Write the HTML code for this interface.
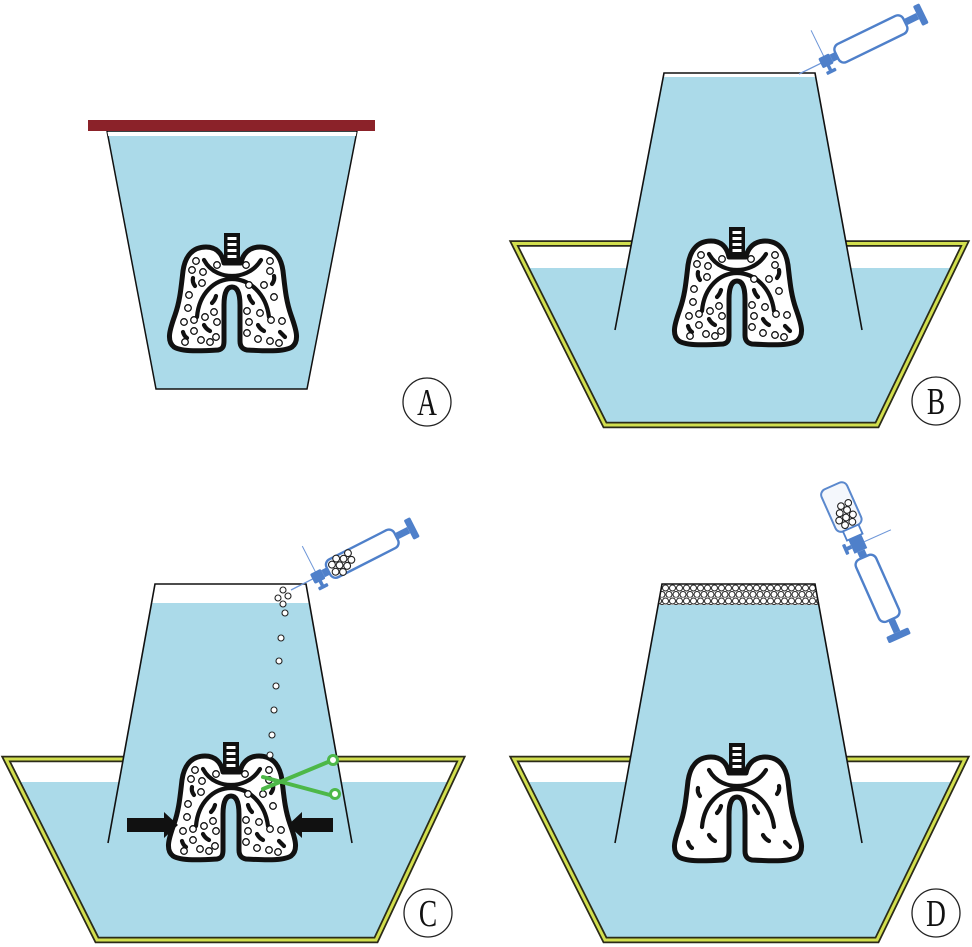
<!DOCTYPE html>
<html><head><meta charset="utf-8"><style>html,body{margin:0;padding:0;background:#fff}svg{display:block}</style></head>
<body>
<svg width="972" height="947" viewBox="0 0 972 947" xmlns="http://www.w3.org/2000/svg">
<defs>
  <g id="lung">
    <path d="M -8 30 C -10 20, -16 14, -26 14 C -40 14, -47 24, -49 38 C -51 55, -52 68, -57 82 C -62 96, -66 108, -58 114 C -50 119, -30 118, -14 117 C -9 116, -8 113, -8 108 L -8 72 C -8 60, -5 54, 0 54 C 5 54, 8 60, 8 72 L 8 108 C 8 113, 10 116, 15 117 C 32 118, 52 119, 60 114 C 68 108, 64 96, 59 82 C 54 68, 53 55, 51 38 C 49 24, 42 14, 28 14 C 18 14, 11 20, 9 30 Z" fill="#fff" stroke="#111" stroke-width="5" stroke-linejoin="round"/>
    <path d="M -28 27 C -21 40, -8 43, 0 43 C 8 43, 21 40, 29 27" fill="none" stroke="#111" stroke-width="4.2" stroke-linecap="round"/>
    <path d="M -35 84 C -33 60, -17 46, 0 46 C 17 46, 34 60, 37 84" fill="none" stroke="#111" stroke-width="4.2" stroke-linecap="round"/>
    <rect x="-8" y="0" width="16" height="31" fill="#111"/>
    <rect x="-4.5" y="4" width="9" height="3" fill="#fff"/>
    <rect x="-4.5" y="10" width="9" height="3" fill="#fff"/>
    <rect x="-4.5" y="16" width="9" height="3" fill="#fff"/>
    <rect x="-4.5" y="22" width="9" height="3" fill="#fff"/>
    <g fill="none" stroke="#111" stroke-width="4.2" stroke-linecap="round">
      <path d="M -39 45 Q -40 49 -37 53"/>
      <path d="M -16 63 Q -17 67 -20 70"/>
      <path d="M -28 92 Q -26 96 -22 98"/>
      <path d="M -49 99 Q -48 103 -45 105"/>
      <path d="M 42 43 Q 43 47 40 51"/>
      <path d="M 17 63 Q 18 67 21 70"/>
      <path d="M 26 92 Q 28 96 32 98"/>
      <path d="M 48 99 Q 51 102 53 104"/>
    </g>
  </g>
  <g id="dots" fill="#fff" stroke="#111" stroke-width="1.3">
    <circle cx="-36" cy="28" r="3.3"/><circle cx="-29" cy="39" r="3.3"/><circle cx="-40" cy="37" r="3.3"/>
    <circle cx="-30" cy="50" r="3.3"/><circle cx="-15" cy="32" r="3.3"/><circle cx="-43" cy="62" r="3.3"/>
    <circle cx="-44" cy="75" r="3.3"/><circle cx="-18" cy="79" r="3.3"/>
    <circle cx="-48" cy="89" r="3.3"/><circle cx="-38" cy="87" r="3.3"/><circle cx="-27" cy="84" r="3.3"/>
    <circle cx="-15" cy="89" r="3.3"/><circle cx="-38" cy="98" r="3.3"/><circle cx="-31" cy="107" r="3.3"/>
    <circle cx="-47" cy="109" r="3.3"/><circle cx="-16" cy="104" r="3.3"/><circle cx="-22" cy="109" r="3.3"/>
    <circle cx="14" cy="32" r="3.3"/><circle cx="38" cy="28" r="3.3"/><circle cx="38" cy="38" r="3.3"/>
    <circle cx="17" cy="52" r="3.3"/><circle cx="42" cy="64" r="3.3"/><circle cx="15" cy="78" r="3.3"/>
    <circle cx="28" cy="80" r="3.3"/><circle cx="17" cy="89" r="3.3"/><circle cx="39" cy="87" r="3.3"/>
    <circle cx="50" cy="88" r="3.3"/><circle cx="26" cy="106" r="3.3"/><circle cx="38" cy="108" r="3.3"/>
    <circle cx="47" cy="110" r="3.3"/><circle cx="32" cy="52" r="3.3"/><circle cx="15" cy="100" r="3.3"/>
  </g>
  <g id="syr">
    <line x1="0" y1="0" x2="26" y2="0" stroke="#6D96D8" stroke-width="1.3"/>
    <line x1="30" y1="-4" x2="30" y2="-34" stroke="#6D96D8" stroke-width="1"/>
    <rect x="24" y="-5.5" width="12" height="11" rx="1.5" fill="#4F80CA"/>
    <rect x="28.3" y="5" width="3.5" height="5.5" fill="#4F80CA"/>
    <rect x="25" y="10" width="10.5" height="3.5" rx="1" fill="#4F80CA"/>
    <rect x="36" y="-4" width="6" height="8" fill="#4F80CA"/>
    <rect x="42" y="-10" width="76" height="20" rx="6" fill="#fff" stroke="#4F80CA" stroke-width="2.4"/>
    <rect x="119" y="-3.5" width="13" height="7" fill="#4F80CA"/>
    <rect x="132" y="-11" width="7" height="22" rx="1.5" fill="#4F80CA"/>
  </g>
  <pattern id="bub" patternUnits="userSpaceOnUse" x="662" y="584.5" width="7" height="13">
    <rect width="7" height="13" fill="#fff"/>
    <g fill="#fff" stroke="#222" stroke-width="1">
      <circle cx="3.5" cy="3.5" r="3"/>
      <circle cx="0" cy="10" r="3"/>
      <circle cx="7" cy="10" r="3"/>
    </g>
  </pattern>
  <clipPath id="bandclip"><path d="M662 584 L815 584 L818.8 605 L658.2 605 Z"/></clipPath>
</defs>

<rect width="972" height="947" fill="#fff"/>

<!-- Panel A -->
<path d="M107 131 L357 131 L307 389 L156 389 Z" fill="#ABDAE9" stroke="#111" stroke-width="1.5"/>
<path d="M107.5 132 L356.5 132 L355.8 136 L108.2 136 Z" fill="#fff"/>
<rect x="88" y="120" width="287" height="11" fill="#8B2229"/>
<use href="#lung" transform="translate(232,233)"/>
<use href="#dots" transform="translate(232,233)"/>

<!-- Panel B -->
<path d="M514 243.5 L965 243.5 L877 425 L605 425 Z" fill="#fff"/>
<path d="M526 268 L953 268 L877 425 L605 425 Z" fill="#ABDAE9"/>
<path d="M514 243.5 L965 243.5 L877 425 L605 425 Z" fill="none" stroke="#2b2b18" stroke-width="6.5"/>
<path d="M514 243.5 L965 243.5 L877 425 L605 425 Z" fill="none" stroke="#D2DF4E" stroke-width="3"/>
<path d="M664 73 L815 73 L862 330 L615 330 Z" fill="#ABDAE9"/>
<path d="M664 73 L815 73 L815.7 77 L663.3 77 Z" fill="#fff"/>
<path d="M615 330 L664 73 L815 73 L862 330" fill="none" stroke="#111" stroke-width="1.6"/>
<use href="#lung" transform="translate(737,227)"/>
<use href="#dots" transform="translate(737,227)"/>
<use href="#syr" transform="translate(799,74) rotate(-26)"/>

<!-- Panel C -->
<path d="M6 759 L461 759 L376 940 L97 940 Z" fill="#fff"/>
<path d="M17.6 782 L450 782 L376 940 L97 940 Z" fill="#ABDAE9"/>
<path d="M6 759 L461 759 L376 940 L97 940 Z" fill="none" stroke="#2b2b18" stroke-width="6.5"/>
<path d="M6 759 L461 759 L376 940 L97 940 Z" fill="none" stroke="#D2DF4E" stroke-width="3"/>
<path d="M155 584 L306 584 L352 843 L108 843 Z" fill="#fff"/>
<path d="M151.6 603 L309.4 603 L352 843 L108 843 Z" fill="#ABDAE9"/>
<path d="M108 843 L155 584 L306 584 L352 843" fill="none" stroke="#111" stroke-width="1.6"/>
<use href="#lung" transform="translate(231,742)"/>
<use href="#dots" transform="translate(231,742)"/>
<path d="M127 818 L164 818 L164 812 L178 825 L164 838 L164 832 L127 832 Z" fill="#111"/>
<path d="M333 818 L302 818 L302 812 L288 825 L302 838 L302 832 L333 832 Z" fill="#111"/>
<g stroke="#4DB848" stroke-width="4" stroke-linecap="round" fill="none">
  <line x1="263" y1="777" x2="330" y2="795"/>
  <line x1="263" y1="789" x2="328" y2="762"/>
</g>
<circle cx="333" cy="760" r="4.5" fill="#fff" stroke="#4DB848" stroke-width="3"/>
<circle cx="335" cy="794" r="4.5" fill="#fff" stroke="#4DB848" stroke-width="3"/>
<g fill="#fff" stroke="#222" stroke-width="1.1">
  <circle cx="283" cy="590" r="3"/><circle cx="278" cy="598" r="3"/><circle cx="288" cy="596" r="3"/>
  <circle cx="283" cy="604" r="3"/><circle cx="285" cy="613" r="3"/><circle cx="281" cy="638" r="3"/>
  <circle cx="279" cy="661" r="3"/><circle cx="276" cy="686" r="3"/><circle cx="274" cy="710" r="3"/>
  <circle cx="272" cy="735" r="3"/><circle cx="270" cy="755" r="3"/>
</g>
<use href="#syr" transform="translate(291,590) rotate(-27)"/>
<g transform="translate(291,590) rotate(-27)" fill="#fff" stroke="#222" stroke-width="1.1">
  <circle cx="48" cy="-4" r="3.4"/><circle cx="48" cy="4" r="3.4"/>
  <circle cx="54.5" cy="-7.5" r="3.4"/><circle cx="54.5" cy="0" r="3.4"/><circle cx="54.5" cy="7.5" r="3.4"/>
  <circle cx="61" cy="-4" r="3.4"/><circle cx="61" cy="4" r="3.4"/>
  <circle cx="67.5" cy="-7" r="3.4"/><circle cx="67.5" cy="0.5" r="3.4"/>
</g>

<!-- Panel D -->
<path d="M514 759 L965 759 L877 940 L605 940 Z" fill="#fff"/>
<path d="M525.5 782 L954 782 L877 940 L605 940 Z" fill="#ABDAE9"/>
<path d="M514 759 L965 759 L877 940 L605 940 Z" fill="none" stroke="#2b2b18" stroke-width="6.5"/>
<path d="M514 759 L965 759 L877 940 L605 940 Z" fill="none" stroke="#D2DF4E" stroke-width="3"/>
<path d="M662 584 L815 584 L862 843 L615 843 Z" fill="#ABDAE9"/>
<rect x="655" y="584" width="170" height="21" fill="url(#bub)" clip-path="url(#bandclip)"/>
<path d="M615 843 L662 584 L815 584 L862 843" fill="none" stroke="#111" stroke-width="1.6"/>
<use href="#lung" transform="translate(737,743)"/>
<g transform="translate(832,486) rotate(66)">
  <rect x="0" y="-14" width="46" height="28" rx="6" fill="#F4F7FC" stroke="#5A88CD" stroke-width="2"/>
  <g fill="#fff" stroke="#222" stroke-width="1.1">
    <circle cx="28" cy="-4" r="3.4"/><circle cx="28" cy="4" r="3.4"/>
    <circle cx="34.5" cy="-7.5" r="3.4"/><circle cx="34.5" cy="0" r="3.4"/><circle cx="34.5" cy="7.5" r="3.4"/>
    <circle cx="41" cy="-4" r="3.4"/><circle cx="41" cy="4" r="3.4"/>
    <circle cx="22" cy="-8" r="3.3"/><circle cx="22" cy="0" r="3.3"/>
  </g>
  <rect x="46" y="-8.5" width="10" height="17" fill="#fff" stroke="#4F80CA" stroke-width="1.8"/>
  <rect x="56" y="-7" width="15" height="14" fill="#4F80CA"/>
  <rect x="61.5" y="7" width="4" height="5" fill="#4F80CA"/>
  <rect x="58" y="11.5" width="11" height="3.5" rx="1" fill="#4F80CA"/>
  <line x1="64" y1="-7" x2="64" y2="-36" stroke="#6D96D8" stroke-width="1"/>
  <rect x="71" y="-4" width="7" height="8" fill="#4F80CA"/>
  <rect x="78" y="-11" width="68" height="22" rx="6" fill="#fff" stroke="#4F80CA" stroke-width="2.4"/>
  <rect x="147" y="-3.5" width="13" height="7" fill="#4F80CA"/>
  <rect x="160" y="-12" width="7" height="24" rx="1.5" fill="#4F80CA"/>
</g>

<!-- Labels -->
<g fill="none" stroke="#222" stroke-width="1.3">
  <circle cx="427" cy="402" r="24"/>
  <circle cx="936" cy="401" r="24"/>
  <circle cx="428" cy="913" r="24"/>
  <circle cx="936" cy="913" r="24"/>
</g>
<g font-family="'Liberation Serif', serif" font-size="38" fill="#111" text-anchor="middle">
  <text transform="translate(427,415) scale(0.72,1)">A</text>
  <text transform="translate(936,414) scale(0.72,1)">B</text>
  <text transform="translate(428,926) scale(0.72,1)">C</text>
  <text transform="translate(936,926) scale(0.72,1)">D</text>
</g>
</svg>
</body></html>
